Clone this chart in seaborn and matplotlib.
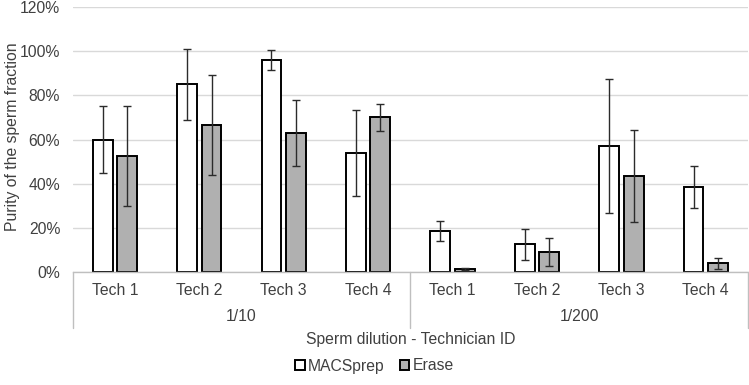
import matplotlib
matplotlib.use('Agg')
import numpy as np
import pandas as pd
import seaborn as sns
import matplotlib.pyplot as plt
from matplotlib.ticker import FuncFormatter, MultipleLocator
from matplotlib.transforms import blended_transform_factory
from matplotlib.lines import Line2D

# data (% purity, mean and error)
dilutions = ['1/10', '1/200']
techs = ['Tech 1', 'Tech 2', 'Tech 3', 'Tech 4']
methods = ['MACSprep', 'Erase']
macs_mean = [60, 85, 96, 54, 18.5, 12.5, 57, 38.5]
macs_err = [15, 16, 4.5, 19.5, 4.5, 7, 30.5, 9.5]
erase_mean = [52.5, 66.5, 63, 70, 1.5, 9, 43.5, 4]
erase_err = [22.5, 22.5, 15, 6, 0.5, 6.5, 21, 2.5]

groups = [f'{d} {t}' for d in dilutions for t in techs]
df = pd.DataFrame({
    'group': groups * 2,
    'method': [methods[0]] * 8 + [methods[1]] * 8,
    'value': macs_mean + erase_mean,
})
errs = [macs_err, erase_err]

sns.set_style('white')
plt.rcParams['font.family'] = ['Liberation Sans', 'DejaVu Sans']
txt = '#404040'
line_grey = '#bfbfbf'
fs = 11.3

fig = plt.figure(figsize=(7.49, 3.85), dpi=100)
ax = fig.add_axes([72.7 / 749, 1 - 272 / 385, (748 - 72.7) / 749, (272 - 7) / 385])

sns.barplot(data=df, x='group', y='value', hue='method', order=groups, hue_order=methods,
            palette={'MACSprep': 'white', 'Erase': '#b0b0b0'}, edgecolor='black',
            linewidth=1.4, width=0.58, gap=0.19, errorbar=None, ax=ax)

# error bars on top of the bars, positions taken from seaborn's bars
for cont, e in zip(ax.containers, errs):
    xs = [b.get_x() + b.get_width() / 2 for b in cont]
    ys = [b.get_height() for b in cont]
    ax.errorbar(xs, ys, yerr=e, fmt='none', ecolor='#2b2b2b', elinewidth=1,
                capsize=3, capthick=1, zorder=5)

ax.set_ylim(0, 120)
ax.set_xlim(-0.5, 7.5)
ax.yaxis.set_major_locator(MultipleLocator(20))
ax.yaxis.set_major_formatter(FuncFormatter(lambda v, p: f'{v:.0f}%'))
ax.yaxis.grid(True, color='#d9d9d9', linewidth=1)
ax.set_axisbelow(True)
for s in ['top', 'right', 'left']:
    ax.spines[s].set_visible(False)
ax.spines['bottom'].set_color(line_grey)
ax.spines['bottom'].set_linewidth(1)

ax.set_xticks(range(len(groups)))
ax.set_xticklabels(techs * 2)
ax.tick_params(axis='x', length=0, pad=8, labelsize=fs, labelcolor=txt)
ax.tick_params(axis='y', length=0, pad=9, labelsize=fs, labelcolor=txt)

# second level of category labels and the separator lines
tr = blended_transform_factory(ax.transData, ax.transAxes)
for i, d in enumerate(dilutions):
    ax.text(i * 4 + 1.5, -0.168, d, transform=tr, ha='center', va='center',
            fontsize=fs, color=txt)
for xv in [-0.5, 3.5, 7.5]:
    ax.add_line(Line2D([xv, xv], [0, -0.211], transform=tr, color=line_grey,
                       linewidth=1, clip_on=False))

ax.set_xlabel('Sperm dilution - Technician ID', fontsize=fs, color=txt)
ax.xaxis.set_label_coords(0.5, -0.228)
ax.set_ylabel('Purity of the sperm fraction', fontsize=fs, color=txt)
ax.yaxis.set_label_coords(-0.078, 0.51)

sns.move_legend(ax, 'center', bbox_to_anchor=(0.5, 1 - 366 / 385), bbox_transform=fig.transFigure,
                ncol=2, frameon=False, title=None, fontsize=fs, handlelength=0.6,
                handleheight=0.6, handletextpad=0.2, columnspacing=1.0, labelcolor=txt)

fig.savefig('out.png', dpi=100)
